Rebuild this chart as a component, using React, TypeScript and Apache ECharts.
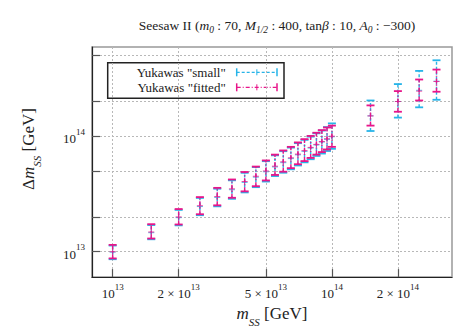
import React, { useEffect, useRef } from "react";
import * as echarts from "echarts";

// m_SS values (GeV)
const mSS = [1e13, 1.5e13, 2e13, 2.5e13, 3e13, 3.5e13, 4e13, 4.5e13, 5e13, 5.5e13, 6e13, 6.5e13, 7e13, 7.5e13, 8e13, 8.5e13, 9e13, 9.5e13, 1e14, 1.5e14, 2e14, 2.5e14, 3e14];

// Yukawas "fitted" (units of 1e13 GeV)
const fittedLow = [0.874, 1.30, 1.72, 2.11, 2.52, 2.93, 3.33, 3.69, 4.14, 4.62, 4.93, 5.29, 5.72, 6.09, 6.49, 6.93, 7.29, 7.68, 8.09, 12.36, 16.3, 20.4, 24.3];
const fittedCenter = [1.0, 1.48, 2.0, 2.5, 3.0, 3.5, 4.05, 4.5, 5.0, 5.5, 6.0, 6.5, 7.0, 7.5, 8.0, 8.5, 9.0, 9.5, 10.0, 15.0, 20.0, 24.6, 29.8];
const fittedHigh = [1.145, 1.73, 2.34, 2.97, 3.57, 4.22, 4.90, 5.46, 6.17, 6.93, 7.53, 8.09, 8.84, 9.44, 10.06, 10.72, 11.3, 11.9, 12.36, 18.5, 24.6, 31.0, 37.8];

// Yukawas "small" (units of 1e13 GeV)
const smallLow = [0.86, 1.28, 1.69, 2.07, 2.47, 2.87, 3.26, 3.62, 4.05, 4.52, 4.83, 5.17, 5.58, 5.94, 6.32, 6.75, 7.08, 7.45, 7.78, 11.1, 14.5, 17.8, 20.7];
const smallCenter = [0.99, 1.46, 1.97, 2.46, 2.95, 3.44, 3.98, 4.42, 4.92, 5.42, 5.9, 6.4, 6.9, 7.4, 7.9, 8.4, 8.9, 9.4, 9.9, 15.0, 20.0, 25.0, 30.0];
const smallHigh = [1.13, 1.70, 2.30, 2.92, 3.51, 4.15, 4.82, 5.40, 6.08, 6.83, 7.42, 7.97, 8.71, 9.30, 9.92, 10.6, 11.2, 12.0, 12.92, 20.4, 28.3, 36.8, 45.5];

const UNIT = 1e13;

// axis ticks
const xTicks = [1e13, 2e13, 5e13, 1e14, 2e14];
const yTicks = [1e13, 2e13, 5e13, 1e14, 2e14, 5e14];
const yTickLabels = [1e13, 1e14];

const seriesNames = ['Yukawas "small"', 'Yukawas "fitted"'];

const CYAN = "#27b4e8";
const MAGENTA = "#e8158a";
const FONT = "Liberation Serif, DejaVu Serif, serif";

function build(low: number[], center: number[], high: number[]) {
  return mSS.map((x, i) => [x, low[i] * UNIT, center[i] * UNIT, high[i] * UNIT]);
}

function makeRender(color: string, dash: number[]) {
  return (params: any, api: any) => {
    const x = api.value(0);
    const pLo = api.coord([x, api.value(1)]);
    const pC = api.coord([x, api.value(2)]);
    const pHi = api.coord([x, api.value(3)]);
    const hw = 4;
    const cw = 3;
    return {
      type: "group",
      children: [
        { type: "line", shape: { x1: pLo[0], y1: pLo[1], x2: pHi[0], y2: pHi[1] }, style: { stroke: color, lineWidth: 1.4, lineDash: dash } },
        { type: "line", shape: { x1: pLo[0] - hw, y1: pLo[1], x2: pLo[0] + hw, y2: pLo[1] }, style: { stroke: color, lineWidth: 1.8 } },
        { type: "line", shape: { x1: pHi[0] - hw, y1: pHi[1], x2: pHi[0] + hw, y2: pHi[1] }, style: { stroke: color, lineWidth: 1.8 } },
        { type: "line", shape: { x1: pC[0] - cw, y1: pC[1], x2: pC[0] + cw, y2: pC[1] }, style: { stroke: color, lineWidth: 1, opacity: 0.8 } },
        { type: "line", shape: { x1: pC[0], y1: pC[1] - cw, x2: pC[0], y2: pC[1] + cw }, style: { stroke: color, lineWidth: 1, opacity: 0.8 } },
      ],
    };
  };
}

function powLabel(v: number) {
  const e = Math.floor(Math.log10(v) + 1e-9);
  const m = Math.round(v / Math.pow(10, e));
  return m === 1 ? `{b|10}{s|${e}}` : `{b|${m} × 10}{s|${e}}`;
}

const richTick = {
  b: { fontSize: 13, fontFamily: FONT, color: "#222", lineHeight: 18, verticalAlign: "bottom" },
  s: { fontSize: 9, fontFamily: FONT, color: "#222", lineHeight: 10, verticalAlign: "top" },
};

function legendSample(y: number, color: string, dash: number[]) {
  const x1 = 236.7, x2 = 277, xc = (x1 + x2) / 2;
  return [
    { type: "line", shape: { x1, y1: y, x2, y2: y }, style: { stroke: color, lineWidth: 1.3, lineDash: dash } },
    { type: "line", shape: { x1, y1: y - 4, x2: x1, y2: y + 4 }, style: { stroke: color, lineWidth: 1.5 } },
    { type: "line", shape: { x1: x2, y1: y - 4, x2, y2: y + 4 }, style: { stroke: color, lineWidth: 1.5 } },
    { type: "line", shape: { x1: xc, y1: y - 3, x2: xc, y2: y + 3 }, style: { stroke: color, lineWidth: 1 } },
  ];
}

const nameRich = {
  n: { fontSize: 17, fontFamily: FONT, color: "#222", fontWeight: "normal", lineHeight: 22, verticalAlign: "top" },
  i: { fontSize: 17, fontFamily: FONT, color: "#222", fontWeight: "normal", fontStyle: "italic", lineHeight: 22, verticalAlign: "top" },
  sub: { fontSize: 11, fontFamily: FONT, color: "#222", fontWeight: "normal", fontStyle: "italic", lineHeight: 22, verticalAlign: "bottom" },
};

export default function App() {
  const ref = useRef<HTMLDivElement>(null);
  useEffect(() => {
    if (!ref.current) return;
    const chart = echarts.init(ref.current, undefined, { renderer: "svg" });
    const dashSmall = [3, 2];
    const dashFitted = [4, 2, 1, 2];
    chart.setOption({
      animation: false,
      backgroundColor: "#fff",
      title: {
        text: "{n|Seesaw II (}{i|m}{sub|0}{n| : 70, }{i|M}{sub|1/2}{n| : 400, tan}{i|β}{n| : 10, }{i|A}{sub|0}{n| : −300)}",
        left: 272,
        top: 13,
        textAlign: "center",
        textStyle: {
          fontWeight: "normal",
          rich: {
            n: { fontSize: 13.5, fontFamily: FONT, color: "#222", fontWeight: "normal", lineHeight: 16, verticalAlign: "top" },
            i: { fontSize: 13.5, fontFamily: FONT, color: "#222", fontWeight: "normal", fontStyle: "italic", lineHeight: 16, verticalAlign: "top" },
            sub: { fontSize: 9.5, fontFamily: FONT, color: "#222", fontWeight: "normal", fontStyle: "italic", lineHeight: 17, verticalAlign: "bottom" },
          },
        },
      },
      grid: { left: 92, right: 23, top: 47, bottom: 47, show: true, borderColor: "#999", borderWidth: 1.5, backgroundColor: "transparent" },
      xAxis: {
        type: "log",
        min: 8.05e12,
        max: 3.53e14,
        name: "{i|m}{sub|SS}{n| [GeV]}",
        nameLocation: "middle",
        nameGap: 26,
        nameTextStyle: { rich: nameRich },
        axisLine: { show: true, lineStyle: { color: "#222", width: 1.2 } },
        axisTick: { show: true, inside: true, length: 8, customValues: xTicks, lineStyle: { color: "#555", width: 1.2 } },
        axisLabel: { customValues: xTicks, margin: 5, formatter: powLabel, rich: richTick },
        splitLine: { show: true, lineStyle: { color: "#b8b8b8", type: [2, 2], width: 1 } },
        minorTick: { show: false },
      },
      yAxis: {
        type: "log",
        min: 6.02e12,
        max: 5.93e14,
        name: "{n|Δ}{i|m}{sub|SS}{n| [GeV]}",
        nameLocation: "middle",
        nameGap: 50,
        nameTextStyle: { rich: nameRich, padding: [0, 0, 0, 26] },
        axisLine: { show: true, lineStyle: { color: "#222", width: 1.2 } },
        axisTick: { show: true, inside: true, length: 8, customValues: yTicks, lineStyle: { color: "#555", width: 1.2 } },
        axisLabel: { customValues: yTickLabels, margin: 7, formatter: powLabel, rich: richTick },
        splitLine: { show: true, lineStyle: { color: "#b8b8b8", type: [2, 2], width: 1 } },
        minorTick: { show: false },
      },
      series: [
        {
          name: seriesNames[0],
          type: "custom",
          data: build(smallLow, smallCenter, smallHigh),
          encode: { x: 0, y: [1, 2, 3] },
          renderItem: makeRender(CYAN, dashSmall),
          z: 2,
        },
        {
          name: seriesNames[1],
          type: "custom",
          data: build(fittedLow, fittedCenter, fittedHigh),
          encode: { x: 0, y: [1, 2, 3] },
          renderItem: makeRender(MAGENTA, dashFitted),
          z: 3,
        },
      ],
      graphic: [
        {
          type: "group",
          z: 100,
          children: [
            { type: "rect", shape: { x: 107.7, y: 62.7, width: 176.3, height: 35.6 }, style: { fill: "#fff", stroke: "#222", lineWidth: 1.5 } },
            { type: "text", x: 225.7, y: 72.5, style: { text: seriesNames[0], fontSize: 13, fontFamily: FONT, fill: "#222", align: "right", verticalAlign: "middle" } },
            { type: "text", x: 225.7, y: 87.5, style: { text: seriesNames[1], fontSize: 13, fontFamily: FONT, fill: "#222", align: "right", verticalAlign: "middle" } },
            ...legendSample(72.3, CYAN, dashSmall),
            ...legendSample(87.3, MAGENTA, dashFitted),
          ],
        },
      ],
    });
    return () => chart.dispose();
  }, []);
  return <div ref={ref} style={{ width: 475, height: 332, position: "absolute", left: 0, top: 0 }} />;
}
